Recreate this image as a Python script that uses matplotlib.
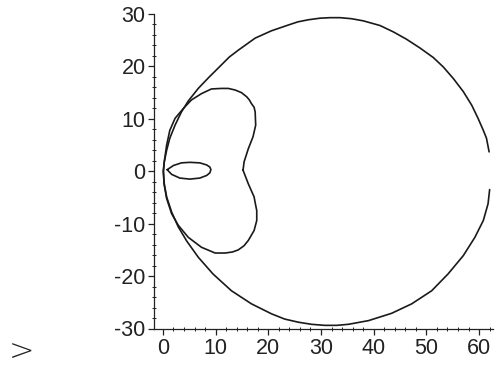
import matplotlib
matplotlib.use("Agg")
import matplotlib.pyplot as plt
from matplotlib.ticker import MultipleLocator

# ---- data ----
outer_x = [61.9, 61.4, 60.8, 59.8, 58.6, 57.0, 55.1, 53.2, 51.3, 48.8, 46.2, 43.7, 41.2, 38.0,
           35.8, 33.6, 31.7, 29.8, 27.6, 25.6, 23.8, 20.6, 17.5, 14.3, 12.6, 11.1, 8.6, 6.7, 4.8,
           3.5, 2.3, 1.3, 0.7, 0.25, 0.05,
           0.25, 0.7, 1.65, 2.9, 4.5, 6.7, 9.5, 13.0, 16.8, 20.6, 23.1, 25.7, 28.2, 30.7, 33.0,
           35.2, 39.0, 43.4, 47.2, 51.0, 54.1, 57.0, 59.2, 60.8, 61.7, 62.0]
outer_y = [3.7, 6.3, 7.8, 10.1, 12.6, 15.2, 17.7, 19.9, 21.7, 23.5, 25.2, 26.6, 27.8, 28.7,
           29.1, 29.3, 29.3, 29.2, 28.9, 28.5, 27.9, 26.8, 25.4, 23.1, 21.8, 20.3, 17.8, 15.8, 13.4,
           11.3, 8.8, 6.3, 4.0, 1.8, 0.0,
           -2.4, -4.9, -7.8, -10.6, -13.3, -16.4, -19.6, -22.8, -25.3, -27.2, -28.2, -28.8, -29.2,
           -29.4, -29.4, -29.2, -28.5, -27.1, -25.3, -22.8, -19.6, -16.1, -12.6, -9.4, -6.2, -3.5]

lobe_x = [15.2, 15.4, 16.2, 17.1, 17.6, 17.5, 17.3, 16.8, 16.4, 15.9, 14.9, 13.7, 12.4, 11.1,
          9.2, 7.3, 5.4, 3.9, 2.3, 1.3, 0.7, 0.25, 0.1,
          0.2, 0.7, 1.65, 2.9, 4.8, 7.3, 9.9, 11.8, 13.2, 14.3, 15.4, 16.2, 17.3, 17.8, 17.8,
          17.5, 17.3, 16.2, 15.2]
lobe_y = [0.2, 1.8, 4.3, 6.6, 8.8, 11.3, 12.2, 12.9, 13.6, 14.2, 15.0, 15.5, 15.8, 15.8,
          15.7, 14.8, 13.6, 12.0, 10.1, 7.8, 5.0, 1.8, 0.0,
          -2.4, -5.2, -8.1, -10.3, -12.6, -14.5, -15.6, -15.6, -15.4, -15.0, -14.2, -13.2,
          -11.3, -9.4, -7.5, -6.0, -4.9, -2.4, 0.2]

loop_x = [0.8, 2.0, 3.5, 5.1, 7.0, 8.3, 8.9, 9.1, 8.9, 8.3, 7.0, 5.1, 3.2, 1.65, 0.8]
loop_y = [0.3, 1.1, 1.6, 1.7, 1.6, 1.2, 0.8, 0.3, -0.3, -0.8, -1.3, -1.5, -1.3, -0.6, 0.3]

xticks = [0, 10, 20, 30, 40, 50, 60]
xtick_labels = ["0", "10", "20", "30", "40", "50", "60"]
yticks = [-30, -20, -10, 0, 10, 20, 30]
ytick_labels = ["-30", "-20", "-10", "0", "10", "20", "30"]

# ---- figure ----
plt.rcParams['font.family'] = ['Liberation Sans', 'DejaVu Sans']
fig = plt.figure(figsize=(4.97, 3.70), dpi=100)
ax = fig.add_axes([154 / 497, (370 - 328.5) / 370, 338.8 / 497, 314.5 / 370])

line_kw = dict(color="#1a1a1a", lw=1.2, solid_joinstyle="round", solid_capstyle="round")
ax.plot(outer_x, outer_y, **line_kw)
ax.plot(lobe_x, lobe_y, **line_kw)
ax.plot(loop_x, loop_y, **line_kw)

ax.set_xlim(-1.7, 62.6)
ax.set_ylim(-30, 30)
ax.spines['top'].set_visible(False)
ax.spines['right'].set_visible(False)
for s in ('left', 'bottom'):
    ax.spines[s].set_color("#222222")
    ax.spines[s].set_linewidth(0.9)

ax.set_xticks(xticks)
ax.set_xticklabels(xtick_labels)
ax.set_yticks(yticks)
ax.set_yticklabels(ytick_labels)
ax.xaxis.set_minor_locator(MultipleLocator(2))
ax.yaxis.set_minor_locator(MultipleLocator(2))
ax.tick_params(which='major', direction='out', length=4, width=0.9, color="#222222",
               labelsize=15.5, labelcolor="#222222", pad=2)
ax.tick_params(axis='x', which='major', pad=3)
ax.tick_params(which='minor', direction='inout', length=3, width=0.7, color="#222222")

fig.text(21 / 497, 1 - 352 / 370, ">", fontsize=22, color="#222222",
         family=['DejaVu Sans'], fontweight='light', ha="center", va="center")

fig.savefig("out.png", dpi=100)
